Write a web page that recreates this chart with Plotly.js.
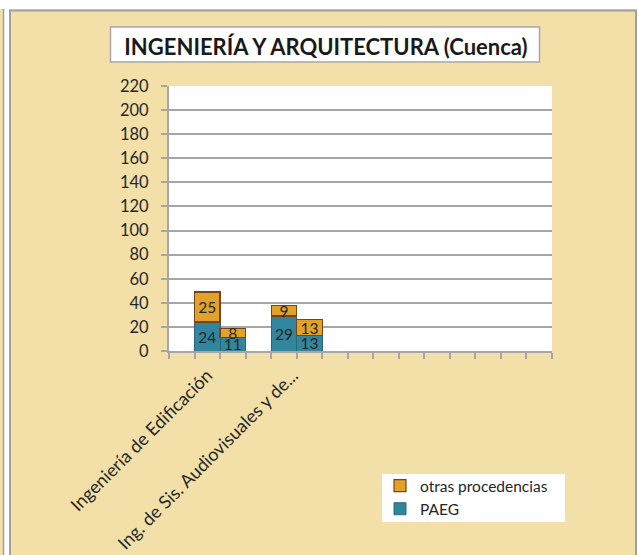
<!DOCTYPE html>
<html>
<head>
<meta charset="utf-8">
<script src="https://cdn.plot.ly/plotly-3.0.1.min.js"></script>
<style>html,body{margin:0;padding:0;background:#fff;}#chart{width:639px;height:555px;}</style>
</head>
<body>
<div id="chart"></div>
<script>
// ---- data ----
const title = "INGENIERÍA Y ARQUITECTURA (Cuenca)";
const categories = ["Ingeniería de Edificación", "Ing. de Sis. Audiovisuales y de..."];
// two bars per category
const paegBar1 = [24, 29];
const paegBar2 = [11, 13];
const otrasBar1 = [25, 9];
const otrasBar2 = [8, 13];
const seriesNames = ["PAEG", "otras procedencias"];
const slotCount = 15;
const yTicks = [0, 20, 40, 60, 80, 100, 120, 140, 160, 180, 200, 220];

// ---- layout helpers ----
const W = 639, H = 555;
const L = 169, R = 552, T = 86, B = 351;
const px = x => (x - L) / (R - L);
const py = y => (B - y) / (B - T);
const FONT = "Lato, Carlito, Calibri, 'DejaVu Sans', sans-serif";
const TXT = "#262626";
const GRID = "#A6A6A6";

// bar positions: each category occupies 3 slots, first one empty
const xs = [], paeg = [], otras = [];
categories.forEach((c, g) => {
  xs.push(1.5 + 3 * g, 2.5 + 3 * g);
  paeg.push(paegBar1[g], paegBar2[g]);
  otras.push(otrasBar1[g], otrasBar2[g]);
});
// label anchor positions (as drawn by the original chart)
const labelShift = [-0.5, -0.15];
const catCenters = categories.map((c, g) => 2 + 3 * g + labelShift[g]);

const common = {
  type: "bar", x: xs, width: 1,
  textposition: "inside", insidetextanchor: "middle", constraintext: "none", textangle: 0,
  textfont: {family: FONT, size: 15.5, color: TXT},
  hoverinfo: "skip"
};
const traces = [
  Object.assign({}, common, {
    name: seriesNames[0], y: paeg, text: paeg.map(String),
    marker: {color: "#31859C", line: {color: "#2A6778", width: 1}}
  }),
  Object.assign({}, common, {
    name: seriesNames[1], y: otras, text: otras.map(String),
    marker: {color: "#E2A22A", line: {color: "#7A4317", width: 1.2}}
  })
];

const layout = {
  width: W, height: H,
  margin: {l: L, r: W - R, t: T, b: H - B, pad: 0},
  paper_bgcolor: "#F3E0A9",
  plot_bgcolor: "#FFFFFF",
  barmode: "stack",
  bargap: 0,
  showlegend: true,
  title: {
    text: "<b>" + title + "</b>",
    font: {family: FONT, size: 22, color: "#1a1a1a"},
    x: 326 / W, xanchor: "center", xref: "container",
    y: 1 - 47 / H, yanchor: "middle", yref: "container"
  },
  font: {family: FONT, size: 15, color: TXT},
  xaxis: {
    range: [0, slotCount], fixedrange: true,
    showgrid: false, zeroline: false,
    showline: true, linecolor: GRID, linewidth: 2,
    tickmode: "array", tickvals: catCenters, ticktext: categories,
    tickangle: -45, ticks: "", ticklen: 0,
    ticklabelstandoff: 5,
    tickfont: {family: FONT, size: 18, color: TXT},
    minor: {tickmode: "linear", tick0: 0, dtick: 1, ticks: "outside", ticklen: 6, tickcolor: GRID, tickwidth: 2, showgrid: false}
  },
  yaxis: {
    range: [0, 220], fixedrange: true,
    tickmode: "array", tickvals: yTicks,
    showgrid: true, gridcolor: GRID, gridwidth: 2,
    zeroline: false,
    showline: true, linecolor: GRID, linewidth: 2,
    ticks: "outside", ticklen: 6, tickcolor: GRID, tickwidth: 2,
    ticklabelstandoff: 9,
    tickfont: {family: FONT, size: 16.5, color: TXT}
  },
  legend: {
    traceorder: "reversed",
    x: px(380), xanchor: "left", xref: "paper",
    y: py(469), yanchor: "top", yref: "paper",
    bgcolor: "rgba(0,0,0,0)",
    font: {family: FONT, size: 15.5, color: TXT},
    itemwidth: 30, tracegroupgap: 0
  },
  shapes: [
    // white page gaps
    {type: "rect", xref: "paper", yref: "paper", x0: px(-5), x1: px(650), y0: py(-5), y1: py(9), fillcolor: "#FFFFFF", line: {width: 0}, layer: "below"},
    {type: "rect", xref: "paper", yref: "paper", x0: px(4), x1: px(9), y0: py(-5), y1: py(560), fillcolor: "#FFFFFF", line: {width: 0}, layer: "below"},
    {type: "rect", xref: "paper", yref: "paper", x0: px(637), x1: px(650), y0: py(-5), y1: py(560), fillcolor: "#FFFFFF", line: {width: 0}, layer: "below"},
    // left neighbour panel edge
    {type: "line", xref: "paper", yref: "paper", x0: px(3.5), x1: px(3.5), y0: py(9), y1: py(560), line: {color: "#A0A0A0", width: 1.5}, layer: "below"},
    // main panel border
    {type: "rect", xref: "paper", yref: "paper", x0: px(10), x1: px(636), y0: py(10.5), y1: py(570), fillcolor: "rgba(0,0,0,0)", line: {color: "#A0A0A0", width: 2}, layer: "below"},
    // title box
    {type: "rect", xref: "paper", yref: "paper", x0: px(110.5), x1: px(539.5), y0: py(27), y1: py(62), fillcolor: "#FFFFFF", line: {color: "#A6A6A6", width: 1.5}, layer: "below"},
    // legend box
    {type: "rect", xref: "paper", yref: "paper", x0: px(382), x1: px(565), y0: py(474), y1: py(522), fillcolor: "#FFFFFF", line: {width: 0}, layer: "below"}
  ]
};

Plotly.newPlot("chart", traces, layout, {displayModeBar: false, staticPlot: true});
</script>
</body>
</html>
